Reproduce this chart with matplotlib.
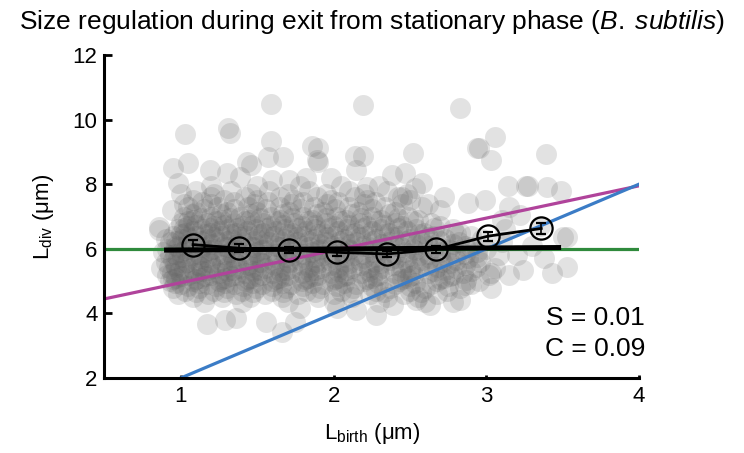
import matplotlib
matplotlib.use("Agg")
import matplotlib.pyplot as plt

plt.rcParams['font.family'] = ['Liberation Sans', 'DejaVu Sans']
plt.rcParams['mathtext.fontset'] = 'custom'
plt.rcParams['mathtext.rm'] = 'Liberation Sans'
plt.rcParams['mathtext.it'] = 'Liberation Sans:italic'

# dense part of the cloud, one row of cells per L_div level
core_rows = {
    4.35: [1.15, 1.4, 1.7, 2.0, 2.3, 2.6],
    4.5: [1.08, 1.27, 1.45, 1.66, 1.9, 2.12, 2.35, 2.55],
    4.6: [0.98, 1.18, 1.36, 1.55, 1.77, 2.0, 2.24, 2.46, 2.68],
    4.65: [1.1, 1.28, 1.47, 1.67, 1.88, 2.1, 2.33, 2.57],
    4.7: [1.03, 1.22, 1.4, 1.6, 1.82, 2.05, 2.28, 2.5, 2.74],
    4.8: [0.95, 1.12, 1.3, 1.49, 1.69, 1.91, 2.13, 2.37, 2.6, 2.83],
    4.85: [1.05, 1.23, 1.41, 1.6, 1.8, 2.02, 2.25, 2.5, 2.75],
    4.9: [1.0, 1.17, 1.35, 1.53, 1.72, 1.93, 2.15, 2.4, 2.64, 2.9],
    4.95: [0.96, 1.12, 1.29, 1.47, 1.66, 1.86, 2.07, 2.29, 2.53],
    5.0: [0.93, 1.08, 1.25, 1.42, 1.6, 1.79, 1.99, 2.2, 2.43, 2.68, 2.95],
    5.05: [0.95, 1.1, 1.27, 1.44, 1.62, 1.81, 2.01, 2.22, 2.45, 2.7],
    5.1: [0.97, 1.13, 1.29, 1.46, 1.64, 1.83, 2.03, 2.25, 2.48, 2.72],
    5.15: [1.0, 1.16, 1.33, 1.5, 1.68, 1.87, 2.07, 2.28, 2.5, 2.76],
    5.2: [0.91, 1.05, 1.2, 1.36, 1.53, 1.71, 1.9, 2.09, 2.3, 2.52, 2.78, 3.02],
    5.25: [0.94, 1.09, 1.25, 1.42, 1.6, 1.79, 1.98, 2.18, 2.4, 2.62, 2.85],
    5.3: [0.99, 1.14, 1.3, 1.47, 1.65, 1.84, 2.03, 2.23, 2.44, 2.66, 2.9],
    5.35: [1.02, 1.18, 1.34, 1.51, 1.69, 1.88, 2.08, 2.29, 2.5, 2.73],
    5.4: [0.92, 1.07, 1.22, 1.38, 1.55, 1.73, 1.92, 2.12, 2.33, 2.56, 2.8, 3.06],
    5.45: [0.97, 1.13, 1.3, 1.47, 1.65, 1.84, 2.03, 2.23, 2.45, 2.68, 2.93],
    5.5: [0.96, 1.11, 1.27, 1.44, 1.61, 1.79, 1.98, 2.18, 2.39, 2.61, 2.86],
    5.55: [1.03, 1.19, 1.36, 1.53, 1.71, 1.9, 2.1, 2.31, 2.53, 2.76],
    5.6: [0.9, 1.04, 1.19, 1.35, 1.52, 1.7, 1.88, 2.07, 2.27, 2.48, 2.71, 2.96],
    5.65: [0.95, 1.1, 1.26, 1.43, 1.6, 1.78, 1.97, 2.17, 2.37, 2.58, 2.8],
    5.7: [0.98, 1.13, 1.29, 1.46, 1.63, 1.81, 2.0, 2.2, 2.41, 2.63, 2.88],
    5.75: [1.01, 1.17, 1.34, 1.51, 1.69, 1.88, 2.07, 2.27, 2.48, 2.7, 2.94],
    5.8: [0.93, 1.07, 1.23, 1.39, 1.56, 1.74, 1.93, 2.13, 2.34, 2.56, 2.8, 3.08],
    5.85: [0.96, 1.12, 1.28, 1.45, 1.62, 1.8, 1.99, 2.19, 2.4, 2.62, 2.86],
    5.9: [1.0, 1.16, 1.32, 1.49, 1.67, 1.86, 2.06, 2.26, 2.47, 2.7, 2.94],
    5.95: [1.03, 1.19, 1.36, 1.53, 1.71, 1.9, 2.1, 2.31, 2.53, 2.76],
    6.0: [0.91, 1.05, 1.21, 1.37, 1.54, 1.72, 1.91, 2.1, 2.3, 2.52, 2.75, 3.0],
    6.05: [0.98, 1.14, 1.3, 1.47, 1.65, 1.84, 2.03, 2.23, 2.44, 2.66, 2.9],
    6.1: [0.97, 1.12, 1.28, 1.45, 1.62, 1.8, 1.99, 2.19, 2.4, 2.62, 2.86],
    6.15: [1.04, 1.2, 1.37, 1.54, 1.72, 1.91, 2.11, 2.32, 2.54, 2.78],
    6.2: [0.93, 1.08, 1.24, 1.41, 1.58, 1.76, 1.95, 2.15, 2.36, 2.58, 2.82, 3.1],
    6.25: [0.97, 1.13, 1.3, 1.47, 1.65, 1.84, 2.04, 2.25, 2.47, 2.7],
    6.3: [1.01, 1.17, 1.33, 1.5, 1.68, 1.87, 2.07, 2.28, 2.5, 2.73, 2.97],
    6.35: [1.05, 1.22, 1.39, 1.57, 1.76, 1.96, 2.17, 2.39, 2.62],
    6.4: [0.95, 1.1, 1.26, 1.43, 1.61, 1.8, 2.0, 2.21, 2.43, 2.66, 2.9],
    6.45: [1.0, 1.16, 1.33, 1.51, 1.7, 1.9, 2.11, 2.33, 2.56, 2.8],
    6.5: [1.03, 1.19, 1.36, 1.54, 1.73, 1.93, 2.14, 2.36, 2.59, 2.83],
    6.55: [1.08, 1.25, 1.43, 1.62, 1.82, 2.03, 2.25, 2.48],
    6.6: [0.98, 1.14, 1.31, 1.49, 1.68, 1.88, 2.09, 2.31, 2.54, 2.78],
    6.65: [1.02, 1.19, 1.37, 1.56, 1.76, 1.97, 2.19, 2.42, 2.66],
    6.7: [1.05, 1.22, 1.4, 1.59, 1.79, 2.0, 2.22, 2.45, 2.7],
    6.75: [1.1, 1.28, 1.47, 1.67, 1.88, 2.1, 2.33],
    6.8: [1.0, 1.17, 1.35, 1.54, 1.74, 1.95, 2.17, 2.4, 2.64],
    6.85: [1.05, 1.23, 1.42, 1.62, 1.83, 2.05, 2.28, 2.52],
    6.9: [1.08, 1.26, 1.45, 1.65, 1.86, 2.08, 2.31, 2.55],
    6.95: [1.13, 1.32, 1.52, 1.73, 1.95, 2.18, 2.42],
    7.0: [1.02, 1.2, 1.39, 1.59, 1.8, 2.02, 2.25, 2.49],
    7.07: [1.07, 1.26, 1.46, 1.67, 1.89, 2.12, 2.36],
    7.15: [1.1, 1.3, 1.5, 1.71, 1.93, 2.16, 2.4],
    7.22: [1.15, 1.35, 1.56, 1.78, 2.01, 2.25],
    7.3: [1.05, 1.24, 1.44, 1.65, 1.87, 2.1, 2.34, 2.58],
    7.38: [1.02, 1.2, 1.48, 1.72, 1.96, 2.2, 2.45, 2.62],
    7.45: [1.14, 1.35, 1.57, 1.8, 2.03, 2.27],
    7.52: [1.08, 1.28, 1.5, 1.74, 1.98, 2.22, 2.5],
    7.6: [1.2, 1.42, 1.65, 1.89, 2.14, 2.42],
    7.7: [1.0, 1.22, 1.46, 1.7, 1.95, 2.2, 2.48],
    7.8: [1.1, 1.33, 1.58, 1.84, 2.1, 2.35],
    7.95: [1.2, 1.5, 1.78, 2.05, 2.3],
}

# sparse cells around the cloud
outer_x = [1.59, 1.03, 1.31, 1.32, 1.59, 1.86, 1.89, 0.95, 1.05, 1.19, 1.43, 1.57, 1.67,
           1.46, 0.98, 1.30, 1.39, 1.60, 1.71, 1.82, 0.86, 0.94, 2.19, 2.83, 1.90, 1.90,
           2.14, 2.19, 2.15, 2.52, 2.94, 1.98, 2.38, 2.47, 2.58, 2.22, 2.53, 2.72, 2.88,
           3.06, 2.95, 3.03, 3.39, 3.14, 3.26, 3.27, 3.40, 3.49, 2.99, 3.15, 3.22, 3.50,
           3.53, 3.53, 3.43, 3.24, 3.15, 3.03, 3.03, 2.87, 2.83, 3.12, 3.3, 3.2, 3.38,
           1.17, 1.29, 1.36, 1.56, 1.66, 1.75, 1.78, 0.87, 0.86, 2.02, 2.15, 2.28, 2.39,
           2.54, 2.63, 2.78, 2.86, 0.88, 0.9, 3.1, 3.35, 2.7, 2.45]
outer_y = [10.48, 9.54, 9.74, 9.58, 9.34, 9.18, 8.75, 8.50, 8.67, 8.44, 8.70, 8.84, 8.85,
           8.60, 8.04, 8.35, 8.22, 8.13, 8.13, 8.19, 6.58, 7.20, 10.44, 10.35, 9.12, 8.70,
           8.87, 8.87, 8.44, 8.96, 9.12, 8.19, 8.28, 8.35, 8.04, 7.92, 7.88, 7.61, 7.42,
           9.45, 9.12, 8.75, 8.94, 7.94, 7.94, 7.94, 7.92, 7.79, 7.51, 7.30, 7.05, 6.37,
           6.37, 5.45, 5.25, 5.34, 5.19, 4.79, 5.25, 5.03, 4.41, 6.6, 6.1, 5.8, 5.7,
           3.67, 3.80, 3.86, 3.74, 3.43, 3.74, 4.17, 5.40, 6.68, 4.17, 4.10, 3.95, 4.26,
           4.41, 4.26, 4.36, 4.88, 5.9, 6.3, 6.9, 6.7, 7.2, 7.6]

# binned means
bin_x = [1.08, 1.38, 1.71, 2.02, 2.35, 2.67, 3.01, 3.36]
bin_y = [6.13, 6.02, 5.96, 5.89, 5.84, 5.98, 6.39, 6.63]
bin_err = [0.15, 0.12, 0.1, 0.1, 0.1, 0.12, 0.14, 0.16]

fit_x = [0.89, 3.49]
fit_y = [5.96, 6.04]

line_x = [0.5, 4.0]
adder_y = [6.0, 6.0]
mixed_y = [4.45, 7.95]
sizer_x = [1.0, 4.0]
sizer_y = [2.0, 8.0]

core_x = []
core_y = []
for yv, xs in core_rows.items():
    for xv in xs:
        core_x.append(xv)
        core_y.append(yv)

fig = plt.figure(figsize=(7.44, 4.53), dpi=100)
ax = fig.add_axes([104.5 / 744, 1 - 378 / 453, (639 - 104.5) / 744, (378 - 55) / 453])

ax.scatter(core_x + outer_x, core_y + outer_y, s=228, color='#616161', alpha=0.18,
           linewidths=0, zorder=1)

ax.plot(line_x, adder_y, color='#2f8a3c', lw=2.3, zorder=2)
ax.plot(line_x, mixed_y, color='#b0439b', lw=2.3, zorder=2)
ax.plot(sizer_x, sizer_y, color='#3b7cc6', lw=2.3, zorder=2)
ax.plot(fit_x, fit_y, color='black', lw=3.6, zorder=3, solid_capstyle='butt')
ax.errorbar(bin_x, bin_y, yerr=bin_err, color='black', lw=2, elinewidth=1.2,
            capsize=3.5, capthick=1.2, marker='o', markersize=16, mfc='none',
            mec='black', mew=1.6, zorder=4)

ax.set_xlim(0.5, 4)
ax.set_ylim(2, 12)
ax.set_xticks([1, 2, 3, 4])
ax.set_yticks([2, 4, 6, 8, 10, 12])
for side in ['top', 'right']:
    ax.spines[side].set_visible(False)
for side in ['left', 'bottom']:
    ax.spines[side].set_linewidth(2.2)
ax.tick_params(axis='x', direction='in', length=2.5, width=2, labelsize=16, pad=6)
ax.tick_params(axis='y', direction='in', length=6, width=2, labelsize=16, pad=5)

ax.set_xlabel(r'L$_{\mathrm{birth}}$ (μm)', fontsize=16, labelpad=10)
ax.set_ylabel(r'L$_{\mathrm{div}}$ (μm)', fontsize=16, labelpad=12)

ax.text(4.04, 3.87, 'S = 0.01', fontsize=19, ha='right', va='center')
ax.text(4.04, 2.9, 'C = 0.09', fontsize=19, ha='right', va='center')

fig.text(0.5, 1 - 22 / 453,
         r'Size regulation during exit from stationary phase ($\mathit{B.\;subtilis}$)',
         fontsize=19, ha='center', va='center')

fig.savefig('out.png', dpi=100)
